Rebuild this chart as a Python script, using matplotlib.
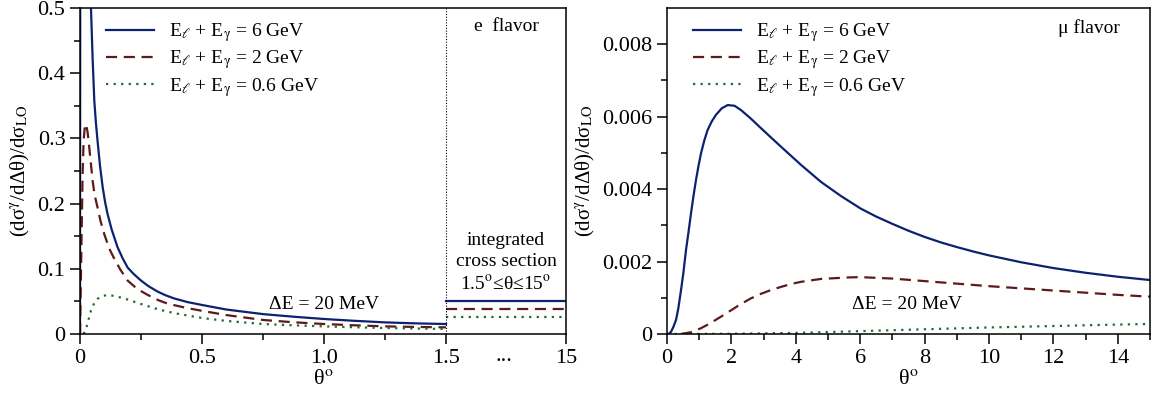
import numpy as np
import matplotlib
matplotlib.use("Agg")
import matplotlib.pyplot as plt

plt.rcParams['font.family'] = ['Liberation Serif', 'DejaVu Serif']
plt.rcParams['mathtext.fontset'] = 'stix'

# ---- e flavor (left panel), theta in degrees
th_e6 = [0.0, 0.001, 0.045, 0.052, 0.0586, 0.065, 0.072, 0.082, 0.093, 0.103, 0.113, 0.13, 0.154,
         0.175, 0.195, 0.22, 0.25, 0.28, 0.318, 0.35, 0.386, 0.44, 0.5, 0.6, 0.75, 0.875, 1.0,
         1.125, 1.25, 1.375, 1.5]
y_e6 = [0.0, 0.6, 0.5, 0.42, 0.358, 0.325, 0.296, 0.258, 0.225, 0.202, 0.184, 0.16, 0.133,
        0.116, 0.102, 0.092, 0.082, 0.0735, 0.065, 0.0595, 0.0545, 0.049, 0.0445, 0.0375, 0.0305,
        0.0265, 0.023, 0.0202, 0.0178, 0.0163, 0.0153]
th_e2 = [0.0, 0.003, 0.0066, 0.0107, 0.0148, 0.019, 0.0246, 0.031, 0.038, 0.045, 0.0517, 0.06,
         0.072, 0.085, 0.0996, 0.12, 0.141, 0.165, 0.195, 0.235, 0.277, 0.32, 0.359, 0.43, 0.5,
         0.6, 0.75, 0.875, 1.0, 1.125, 1.25, 1.375, 1.5]
y_e2 = [0.0, 0.07, 0.153, 0.245, 0.296, 0.315, 0.322, 0.31, 0.286, 0.26, 0.235, 0.213,
        0.194, 0.172, 0.153, 0.131, 0.115, 0.099, 0.082, 0.069, 0.06, 0.052, 0.0465, 0.0405, 0.0355,
        0.029, 0.0215, 0.018, 0.0153, 0.0133, 0.0117, 0.0108, 0.0102]
th_e06 = [0.0148, 0.0246, 0.035, 0.045, 0.058, 0.072, 0.09, 0.113, 0.145, 0.181, 0.25, 0.318,
          0.386, 0.5, 0.6, 0.75, 0.875, 1.0, 1.125, 1.25, 1.375, 1.5]
y_e06 = [0.0, 0.0077, 0.022, 0.036, 0.047, 0.054, 0.058, 0.060, 0.058, 0.0546, 0.046, 0.038,
         0.032, 0.0245, 0.02, 0.0153, 0.0133, 0.0117, 0.0103, 0.0092, 0.0084, 0.0077]
# integrated cross section 1.5 <= theta <= 15
integ = [0.051, 0.039, 0.0265]

# ---- mu flavor (right panel)
th_m6 = [0.05, 0.124, 0.2, 0.28, 0.35, 0.435, 0.51, 0.59, 0.67, 0.745, 0.82, 0.9, 0.98, 1.056,
         1.16, 1.26, 1.39, 1.52, 1.7, 1.885, 2.1, 2.3, 2.6, 2.92, 3.54, 4.16, 4.78, 5.4, 6.02,
         6.5, 7, 7.5, 8, 8.5, 9, 9.5, 10, 11, 12, 13, 14, 15]
y_m6 = [0.0, 0.00006, 0.0002, 0.00039, 0.0007, 0.00121, 0.0017, 0.00232, 0.00283, 0.00333,
        0.0038, 0.00425, 0.00465, 0.00499, 0.00535, 0.00563, 0.00587, 0.00605, 0.00623, 0.00632,
        0.0063, 0.00618, 0.00595, 0.00568, 0.00517, 0.00467, 0.0042, 0.00381, 0.00346,
        0.00324, 0.00304, 0.00285, 0.00268, 0.00253, 0.0024, 0.00228, 0.00217, 0.00198, 0.00182,
        0.00169, 0.00158, 0.00149]
th_m2 = [0.435, 0.75, 1.056, 1.35, 1.68, 2.0, 2.3, 2.6, 2.92, 3.25, 3.54, 3.85, 4.16, 4.78, 5.6,
         6, 7, 8, 9, 10, 11, 12, 13, 14, 15]
y_m2 = [0.0, 0.00005, 0.00016, 0.0003, 0.00048, 0.00066, 0.00083, 0.00098, 0.00111, 0.00122,
        0.0013, 0.00138, 0.00144, 0.00152, 0.00156, 0.00157, 0.00153, 0.00146, 0.00139, 0.00132,
        0.00126, 0.0012, 0.00114, 0.00108, 0.00103]
th_m06 = [0, 2, 4, 5.4, 8, 10, 12, 14, 15]
y_m06 = [0.0, 0.000005, 0.00003, 0.000064, 0.00013, 0.00018, 0.00022, 0.00026, 0.000276]

labels = [r'E$_\ell$ + E$_{\mathrm{\gamma}}$ = 6 GeV', r'E$_\ell$ + E$_{\mathrm{\gamma}}$ = 2 GeV',
          r'E$_\ell$ + E$_{\mathrm{\gamma}}$ = 0.6 GeV']
colors = ['#0c2270', '#5e1a1a', '#1f6a2c']
styles = [dict(ls='-', lw=1.6), dict(ls=(0, (5, 3)), lw=1.6), dict(ls=(0, (1, 2.4)), lw=1.6)]

x_break = 1.5
x_end = 1.5 + 120 / 244  # compressed 1.5..15 region

fig = plt.figure(figsize=(11.56, 3.96), dpi=100)
ax1 = fig.add_axes([0.0692, 0.1566, 0.4204, 0.8232])
ax2 = fig.add_axes([0.577, 0.1566, 0.4178, 0.8232])

for xs, ys, c, st, lab in zip([th_e6, th_e2, th_e06], [y_e6, y_e2, y_e06], colors, styles, labels):
    ax1.plot(xs, ys, color=c, label=lab, **st)
for v, c, st in zip(integ, colors, styles):
    ax1.plot([x_break, x_end], [v, v], color=c, **st)
ax1.axvline(x_break, color='k', ls=(0, (1, 1.5)), lw=0.8)

ax1.set_xlim(0, x_end)
ax1.set_ylim(0, 0.5)
ax1.set_xticks([0, 0.5, 1.0, x_break, x_end])
ax1.set_xticklabels(['0', '0.5', '1.0', '1.5', '15'])
ax1.set_xticks([0.25, 0.75, 1.25], minor=True)
ax1.set_yticks([0, 0.1, 0.2, 0.3, 0.4, 0.5])
ax1.set_yticklabels(['0', '0.1', '0.2', '0.3', '0.4', '0.5'])
ax1.set_yticks(np.arange(0.05, 0.5, 0.1), minor=True)
ax1.text((x_break + x_end) / 2 - 0.01, -0.041, '...', ha='center', va='baseline', fontsize=16)
ax1.text((x_break + x_end) / 2, 0.485, 'e  flavor', ha='center', va='top', fontsize=14)
ax1.text((x_break + x_end) / 2, 0.062, 'integrated\ncross section\n1.5$^{\\rm o}$≤θ≤15$^{\\rm o}$',
         ha='center', va='bottom', fontsize=14, linespacing=1.3)
ax1.text(1.0, 0.045, 'ΔE = 20 MeV', ha='center', va='center', fontsize=14)

for xs, ys, c, st, lab in zip([th_m6, th_m2, th_m06], [y_m6, y_m2, y_m06], colors, styles, labels):
    ax2.plot(xs, ys, color=c, label=lab, **st)
ax2.set_xlim(0, 15)
ax2.set_ylim(0, 0.009)
ax2.set_xticks(range(0, 15, 2))
ax2.set_xticks(range(1, 16, 2), minor=True)
ax2.set_yticks([0, 0.002, 0.004, 0.006, 0.008])
ax2.set_yticklabels(['0', '0.002', '0.004', '0.006', '0.008'])
ax2.set_yticks([0.001, 0.003, 0.005, 0.007], minor=True)
ax2.text(0.874, 0.965, 'μ flavor', transform=ax2.transAxes, ha='center', va='top', fontsize=14)
ax2.text(7.46, 0.00082, 'ΔE = 20 MeV', ha='center', va='center', fontsize=14)

for ax in (ax1, ax2):
    ax.tick_params(which='major', direction='out', length=7, width=1.1, labelsize=16, top=False, right=False)
    ax.tick_params(which='minor', direction='out', length=4.2, width=1.1)
    for s in ax.spines.values():
        s.set_linewidth(1.1)
    ax.set_xlabel('θ$^{\\rm o}$', fontsize=16, labelpad=2)
    ax.set_ylabel(r'(dσ$^{\mathrm{\gamma}}$/dΔθ)/dσ$_{\mathrm{LO}}$', fontsize=15, labelpad=4)
    ax.legend(loc='upper left', frameon=False, fontsize=14, handlelength=2.45, handletextpad=0.8,
              labelspacing=0.22, borderaxespad=0.2, bbox_to_anchor=(0.03, 0.995))

fig.savefig('out.png', dpi=100)
